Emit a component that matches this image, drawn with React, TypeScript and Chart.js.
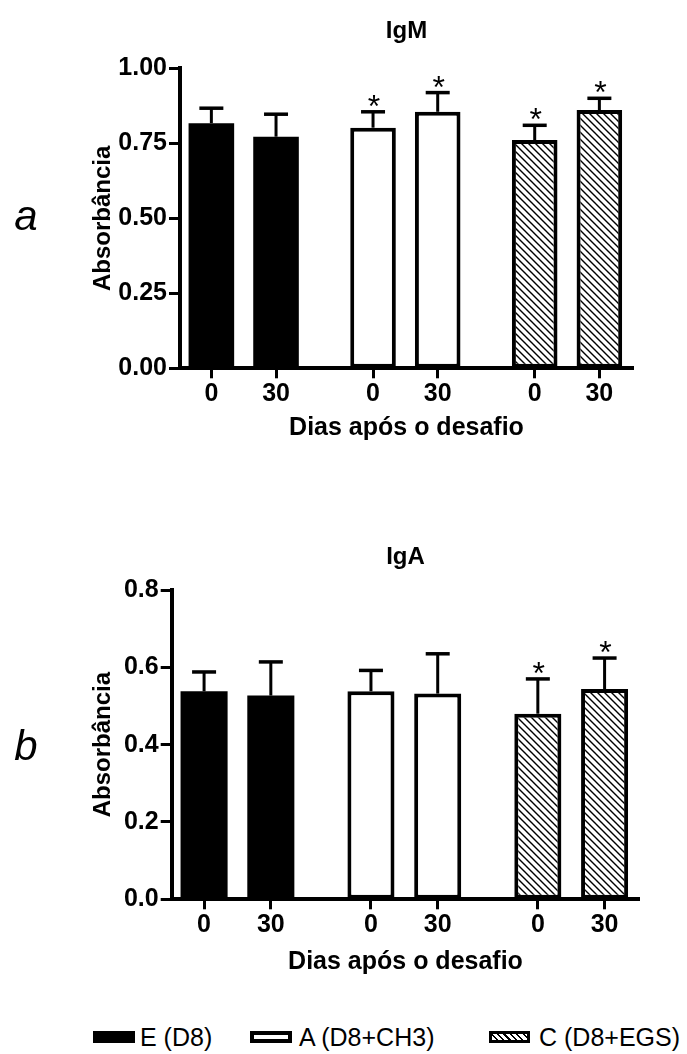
import { useEffect, useRef } from 'react';
import { Chart, registerables } from 'chart.js';

Chart.register(...registerables);

const FONT = '"Liberation Sans", Arial, Helvetica, sans-serif';

// Bar slots along the x axis: two sampling days per group, wider gap between groups
const barSlots = [0, 2, 5, 7, 10, 12];
const dayLabels = ['0', '30', '0', '30', '0', '30'];
const groupNames = ['E (D8)', 'A (D8+CH3)', 'C (D8+EGS)'];
const groupOfBar = [0, 0, 1, 1, 2, 2];

// IgM absorbance (mean and SEM)
const igmMean = [0.817, 0.772, 0.802, 0.855, 0.761, 0.861];
const igmSem = [0.05, 0.075, 0.053, 0.064, 0.049, 0.039];
const igmSignificant = [false, false, true, true, true, true];
const igmTicks = [0, 0.25, 0.5, 0.75, 1.0];

// IgA absorbance (mean and SEM)
const igaMean = [0.538, 0.527, 0.538, 0.532, 0.48, 0.544];
const igaSem = [0.05, 0.087, 0.054, 0.103, 0.09, 0.08];
const igaSignificant = [false, false, false, false, true, true];
const igaTicks = [0, 0.2, 0.4, 0.6, 0.8];

function makeHatch(): CanvasPattern | string {
  const size = 7;
  const c = document.createElement('canvas');
  c.width = size;
  c.height = size;
  const g = c.getContext('2d');
  if (!g) return '#fff';
  g.fillStyle = '#fff';
  g.fillRect(0, 0, size, size);
  g.strokeStyle = '#000';
  g.lineWidth = 1.4;
  g.beginPath();
  g.moveTo(-1, -1);
  g.lineTo(size + 1, size + 1);
  g.moveTo(-1, size - 1);
  g.lineTo(1, size + 1);
  g.moveTo(size - 1, -1);
  g.lineTo(size + 1, 1);
  g.stroke();
  return g.createPattern(c, 'repeat') || '#fff';
}

type PanelSpec = {
  title: string;
  letter: string;
  mean: number[];
  sem: number[];
  significant: boolean[];
  ticks: number[];
  decimals: number;
  yMax: number;
  yAxisWidth: number;
  xAxisHeight: number;
  padding: { left: number; right: number; top: number; bottom: number };
  titlePadding: { top: number; bottom: number };
};

function buildChart(canvas: HTMLCanvasElement, spec: PanelSpec) {
  const hatch = makeHatch();
  const fills: (string | CanvasPattern)[] = ['#000', '#fff', hatch];
  const borders = [0, 4, 4];

  const datasets = groupNames.map((name, g) => ({
    label: name,
    data: barSlots
      .map((x, i) => ({ x, y: spec.mean[i], g: groupOfBar[i] }))
      .filter((p) => p.g === g)
      .map((p) => ({ x: p.x, y: p.y })),
    backgroundColor: fills[g],
    borderColor: '#000',
    borderWidth: borders[g],
    borderSkipped: false as const,
    grouped: false,
    barPercentage: 0.705,
    categoryPercentage: 1,
  }));

  const annotations = {
    id: 'errorBarsAndMarks',
    afterDatasetsDraw(chart: Chart) {
      const ctx = chart.ctx;
      const xs = chart.scales.x;
      const ys = chart.scales.y;
      ctx.save();
      barSlots.forEach((slot, i) => {
        const px = xs.getPixelForValue(slot);
        const top = ys.getPixelForValue(spec.mean[i]);
        const cap = ys.getPixelForValue(spec.mean[i] + spec.sem[i]);
        ctx.strokeStyle = '#000';
        ctx.lineWidth = 3;
        ctx.lineCap = 'butt';
        ctx.beginPath();
        ctx.moveTo(px, top);
        ctx.lineTo(px, cap);
        ctx.stroke();
        ctx.lineWidth = 3.5;
        ctx.beginPath();
        ctx.moveTo(px - 12, cap);
        ctx.lineTo(px + 12, cap);
        ctx.stroke();
        if (spec.significant[i]) {
          ctx.font = `32px ${FONT}`;
          ctx.fillStyle = '#000';
          ctx.textAlign = 'center';
          ctx.textBaseline = 'alphabetic';
          const m = ctx.measureText('*');
          const inkBottom = cap - 5;
          ctx.fillText('*', px + 1, inkBottom - m.actualBoundingBoxDescent);
        }
      });
      ctx.restore();
    },
    afterDraw(chart: Chart) {
      const ctx = chart.ctx;
      const area = chart.chartArea;
      ctx.save();
      ctx.font = `italic 42px ${FONT}`;
      ctx.fillStyle = '#000';
      ctx.textAlign = 'center';
      ctx.textBaseline = 'alphabetic';
      const m = ctx.measureText(spec.letter);
      const mid = (area.top + area.bottom) / 2;
      const base = mid + (m.actualBoundingBoxAscent - m.actualBoundingBoxDescent) / 2;
      ctx.fillText(spec.letter, 26, base);
      ctx.restore();
    },
  };

  const boldTick = { family: FONT, size: 25, weight: 'bold' as const };

  return new Chart(canvas, {
    type: 'bar',
    data: { datasets: datasets as any },
    plugins: [annotations],
    options: {
      responsive: false,
      animation: false,
      devicePixelRatio: 1,
      layout: { padding: spec.padding },
      plugins: {
        legend: { display: false },
        tooltip: { enabled: false },
        title: {
          display: true,
          text: spec.title,
          fullSize: false,
          color: '#000',
          font: { family: FONT, size: 24, weight: 'bold' },
          padding: spec.titlePadding,
        },
      },
      scales: {
        x: {
          type: 'linear',
          min: -0.97,
          max: 13.04,
          offset: false,
          afterBuildTicks: (s: any) => {
            s.ticks = barSlots.map((v) => ({ value: v }));
          },
          afterFit: (s: any) => {
            s.height = spec.xAxisHeight;
          },
          ticks: {
            autoSkip: false,
            maxRotation: 0,
            padding: 1,
            color: '#000',
            font: boldTick,
            callback: (v: any) => dayLabels[barSlots.indexOf(Number(v))] ?? '',
          },
          grid: {
            display: true,
            offset: false,
            drawOnChartArea: false,
            drawTicks: true,
            tickLength: 10,
            tickWidth: 3,
            tickColor: '#000',
          },
          border: { display: true, width: 4, color: '#000' },
          title: {
            display: true,
            text: 'Dias após o desafio',
            color: '#000',
            font: { family: FONT, size: 25, weight: 'bold' },
            padding: { top: 0, bottom: 0 },
          },
        },
        y: {
          min: 0,
          max: spec.yMax,
          afterBuildTicks: (s: any) => {
            s.ticks = spec.ticks.map((v) => ({ value: v }));
          },
          afterFit: (s: any) => {
            s.width = spec.yAxisWidth;
          },
          ticks: {
            padding: 2,
            color: '#000',
            font: boldTick,
            callback: (v: any) => Number(v).toFixed(spec.decimals),
          },
          grid: {
            display: true,
            drawOnChartArea: false,
            drawTicks: true,
            tickLength: 11,
            tickWidth: 3,
            tickColor: '#000',
          },
          border: { display: true, width: 4, color: '#000' },
          title: {
            display: true,
            text: 'Absorbância',
            color: '#000',
            font: { family: FONT, size: 24, weight: 'bold' },
            padding: { top: 8.6, bottom: 0 },
          },
        },
      },
    },
  });
}

const igmPanel: PanelSpec = {
  title: 'IgM',
  letter: 'a',
  mean: igmMean,
  sem: igmSem,
  significant: igmSignificant,
  ticks: igmTicks,
  decimals: 2,
  yMax: 1.0,
  yAxisWidth: 100,
  xAxisHeight: 74.7,
  padding: { left: 80, right: 54, top: 0, bottom: 17 },
  titlePadding: { top: 16.6, bottom: 22.9 },
};

const igaPanel: PanelSpec = {
  title: 'IgA',
  letter: 'b',
  mean: igaMean,
  sem: igaSem,
  significant: igaSignificant,
  ticks: igaTicks,
  decimals: 1,
  yMax: 0.8,
  yAxisWidth: 91.7,
  xAxisHeight: 77.7,
  padding: { left: 80, right: 47.7, top: 0, bottom: 23 },
  titlePadding: { top: 62.6, bottom: 18.6 },
};

function Panel({ spec, top, height }: { spec: PanelSpec; top: number; height: number }) {
  const ref = useRef<HTMLCanvasElement>(null);
  useEffect(() => {
    if (!ref.current) return;
    const chart = buildChart(ref.current, spec);
    return () => chart.destroy();
  }, [spec]);
  return (
    <canvas
      ref={ref}
      width={687}
      height={height}
      style={{ position: 'absolute', left: 0, top, width: 687, height }}
    />
  );
}

const swatchBase: React.CSSProperties = {
  position: 'absolute',
  top: 1031,
  height: 12,
  boxSizing: 'border-box',
};

const legendText: React.CSSProperties = {
  position: 'absolute',
  top: 1037,
  transform: 'translateY(-50%)',
  fontFamily: FONT,
  fontSize: 25,
  lineHeight: '29px',
  color: '#000',
  whiteSpace: 'nowrap',
};

export default function App() {
  return (
    <div
      style={{
        position: 'absolute',
        left: 0,
        top: 0,
        width: 687,
        height: 1054,
        background: '#fff',
        overflow: 'hidden',
      }}
    >
      <Panel spec={igmPanel} top={0} height={460} />
      <Panel spec={igaPanel} top={480} height={520} />

      <div style={{ ...swatchBase, left: 93, width: 42, background: '#000' }} />
      <div style={{ ...legendText, left: 140 }}>{groupNames[0]}</div>

      <div
        style={{ ...swatchBase, left: 250, width: 42, background: '#fff', border: '4px solid #000' }}
      />
      <div style={{ ...legendText, left: 299 }}>{groupNames[1]}</div>

      <div
        style={{
          ...swatchBase,
          left: 489,
          width: 41,
          border: '3px solid #000',
          background:
            'repeating-linear-gradient(45deg, #fff 0px, #fff 3px, #000 3px, #000 4.5px)',
        }}
      />
      <div style={{ ...legendText, left: 539 }}>{groupNames[2]}</div>
    </div>
  );
}
